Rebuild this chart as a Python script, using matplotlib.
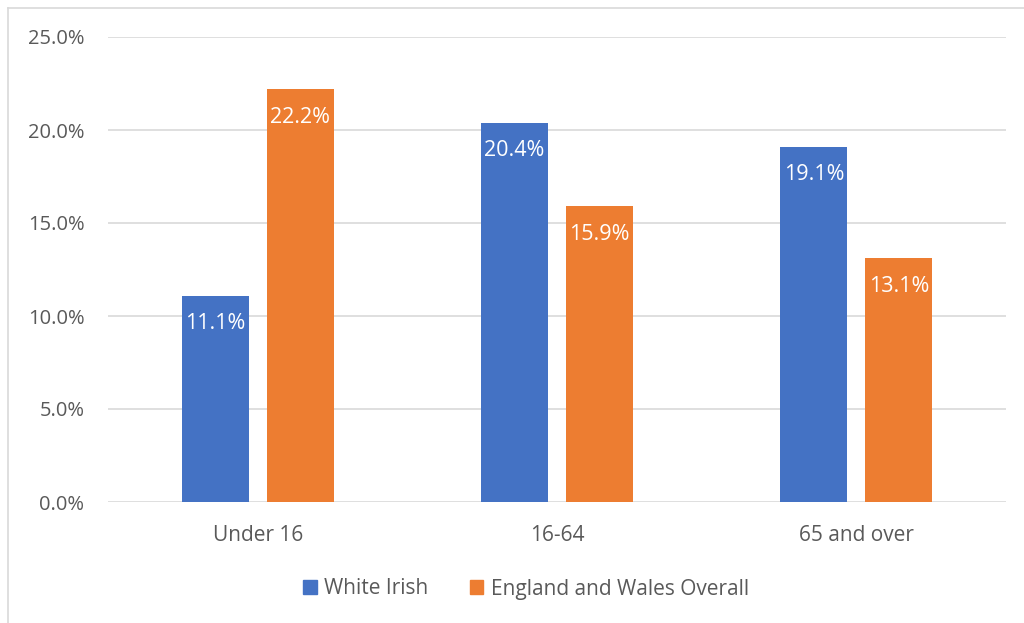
import matplotlib
matplotlib.use("Agg")
import matplotlib.pyplot as plt
from matplotlib.patches import Rectangle
from matplotlib.ticker import FuncFormatter
import numpy as np

categories = ["Under 16", "16-64", "65 and over"]
white_irish = [11.1, 20.4, 19.1]
england_wales = [22.2, 15.9, 13.1]
series_names = ["White Irish", "England and Wales Overall"]
colors = ["#4472C4", "#ED7D31"]

plt.rcParams["font.family"] = ["Open Sans", "DejaVu Sans"]
text_color = "#595959"
grid_color = "#D9D9D9"

W, H = 1024, 623
fig = plt.figure(figsize=(W / 100, H / 100), dpi=100)

# chart border (top and left edges visible)
fig.add_artist(plt.Line2D([8 / W, 8 / W], [0, 1 - 7.5 / H], transform=fig.transFigure,
                          color=grid_color, lw=1.2))
fig.add_artist(plt.Line2D([8 / W, 1], [1 - 7.5 / H, 1 - 7.5 / H], transform=fig.transFigure,
                          color=grid_color, lw=1.2))

ax = fig.add_axes([108 / W, 1 - 502 / H, (1006 - 108) / W, (502 - 37) / H])
x = np.arange(len(categories))
width = 0.224
offset = 0.142

b1 = ax.bar(x - offset, white_irish, width, color=colors[0], zorder=3)
b2 = ax.bar(x + offset, england_wales, width, color=colors[1], zorder=3)

for bars, vals in ((b1, white_irish), (b2, england_wales)):
    for rect, v in zip(bars, vals):
        ax.annotate(f"{v:.1f}%", (rect.get_x() + rect.get_width() / 2, v),
                    xytext=(0, -28), textcoords="offset pixels",
                    ha="center", va="center", color="white", fontsize=15.5, zorder=4)

ax.set_xlim(-0.5, 2.5)
ax.set_ylim(0, 25)
ax.set_yticks(np.arange(0, 25.1, 5))
ax.yaxis.set_major_formatter(FuncFormatter(lambda v, _: f"{v:.1f}%"))
ax.set_xticks(x)
ax.set_xticklabels(categories)
ax.tick_params(axis="both", length=0, labelsize=14.5, colors=text_color)
ax.tick_params(axis="x", labelsize=15)
ax.tick_params(axis="y", pad=17)
ax.tick_params(axis="x", pad=16.5)
ax.grid(axis="y", color=grid_color, lw=1.2, zorder=0)
for s in ax.spines.values():
    s.set_visible(False)

handles = [Rectangle((0, 0), 1, 1, color=c) for c in colors]
leg = fig.legend(handles, series_names, loc="center", bbox_to_anchor=(526 / W, 1 - 589 / H),
                 ncol=2, frameon=False, fontsize=15, handlelength=0.65, handleheight=0.65,
                 handletextpad=0.35, columnspacing=2.0)
for t in leg.get_texts():
    t.set_color(text_color)

fig.savefig("out.png", dpi=100)
